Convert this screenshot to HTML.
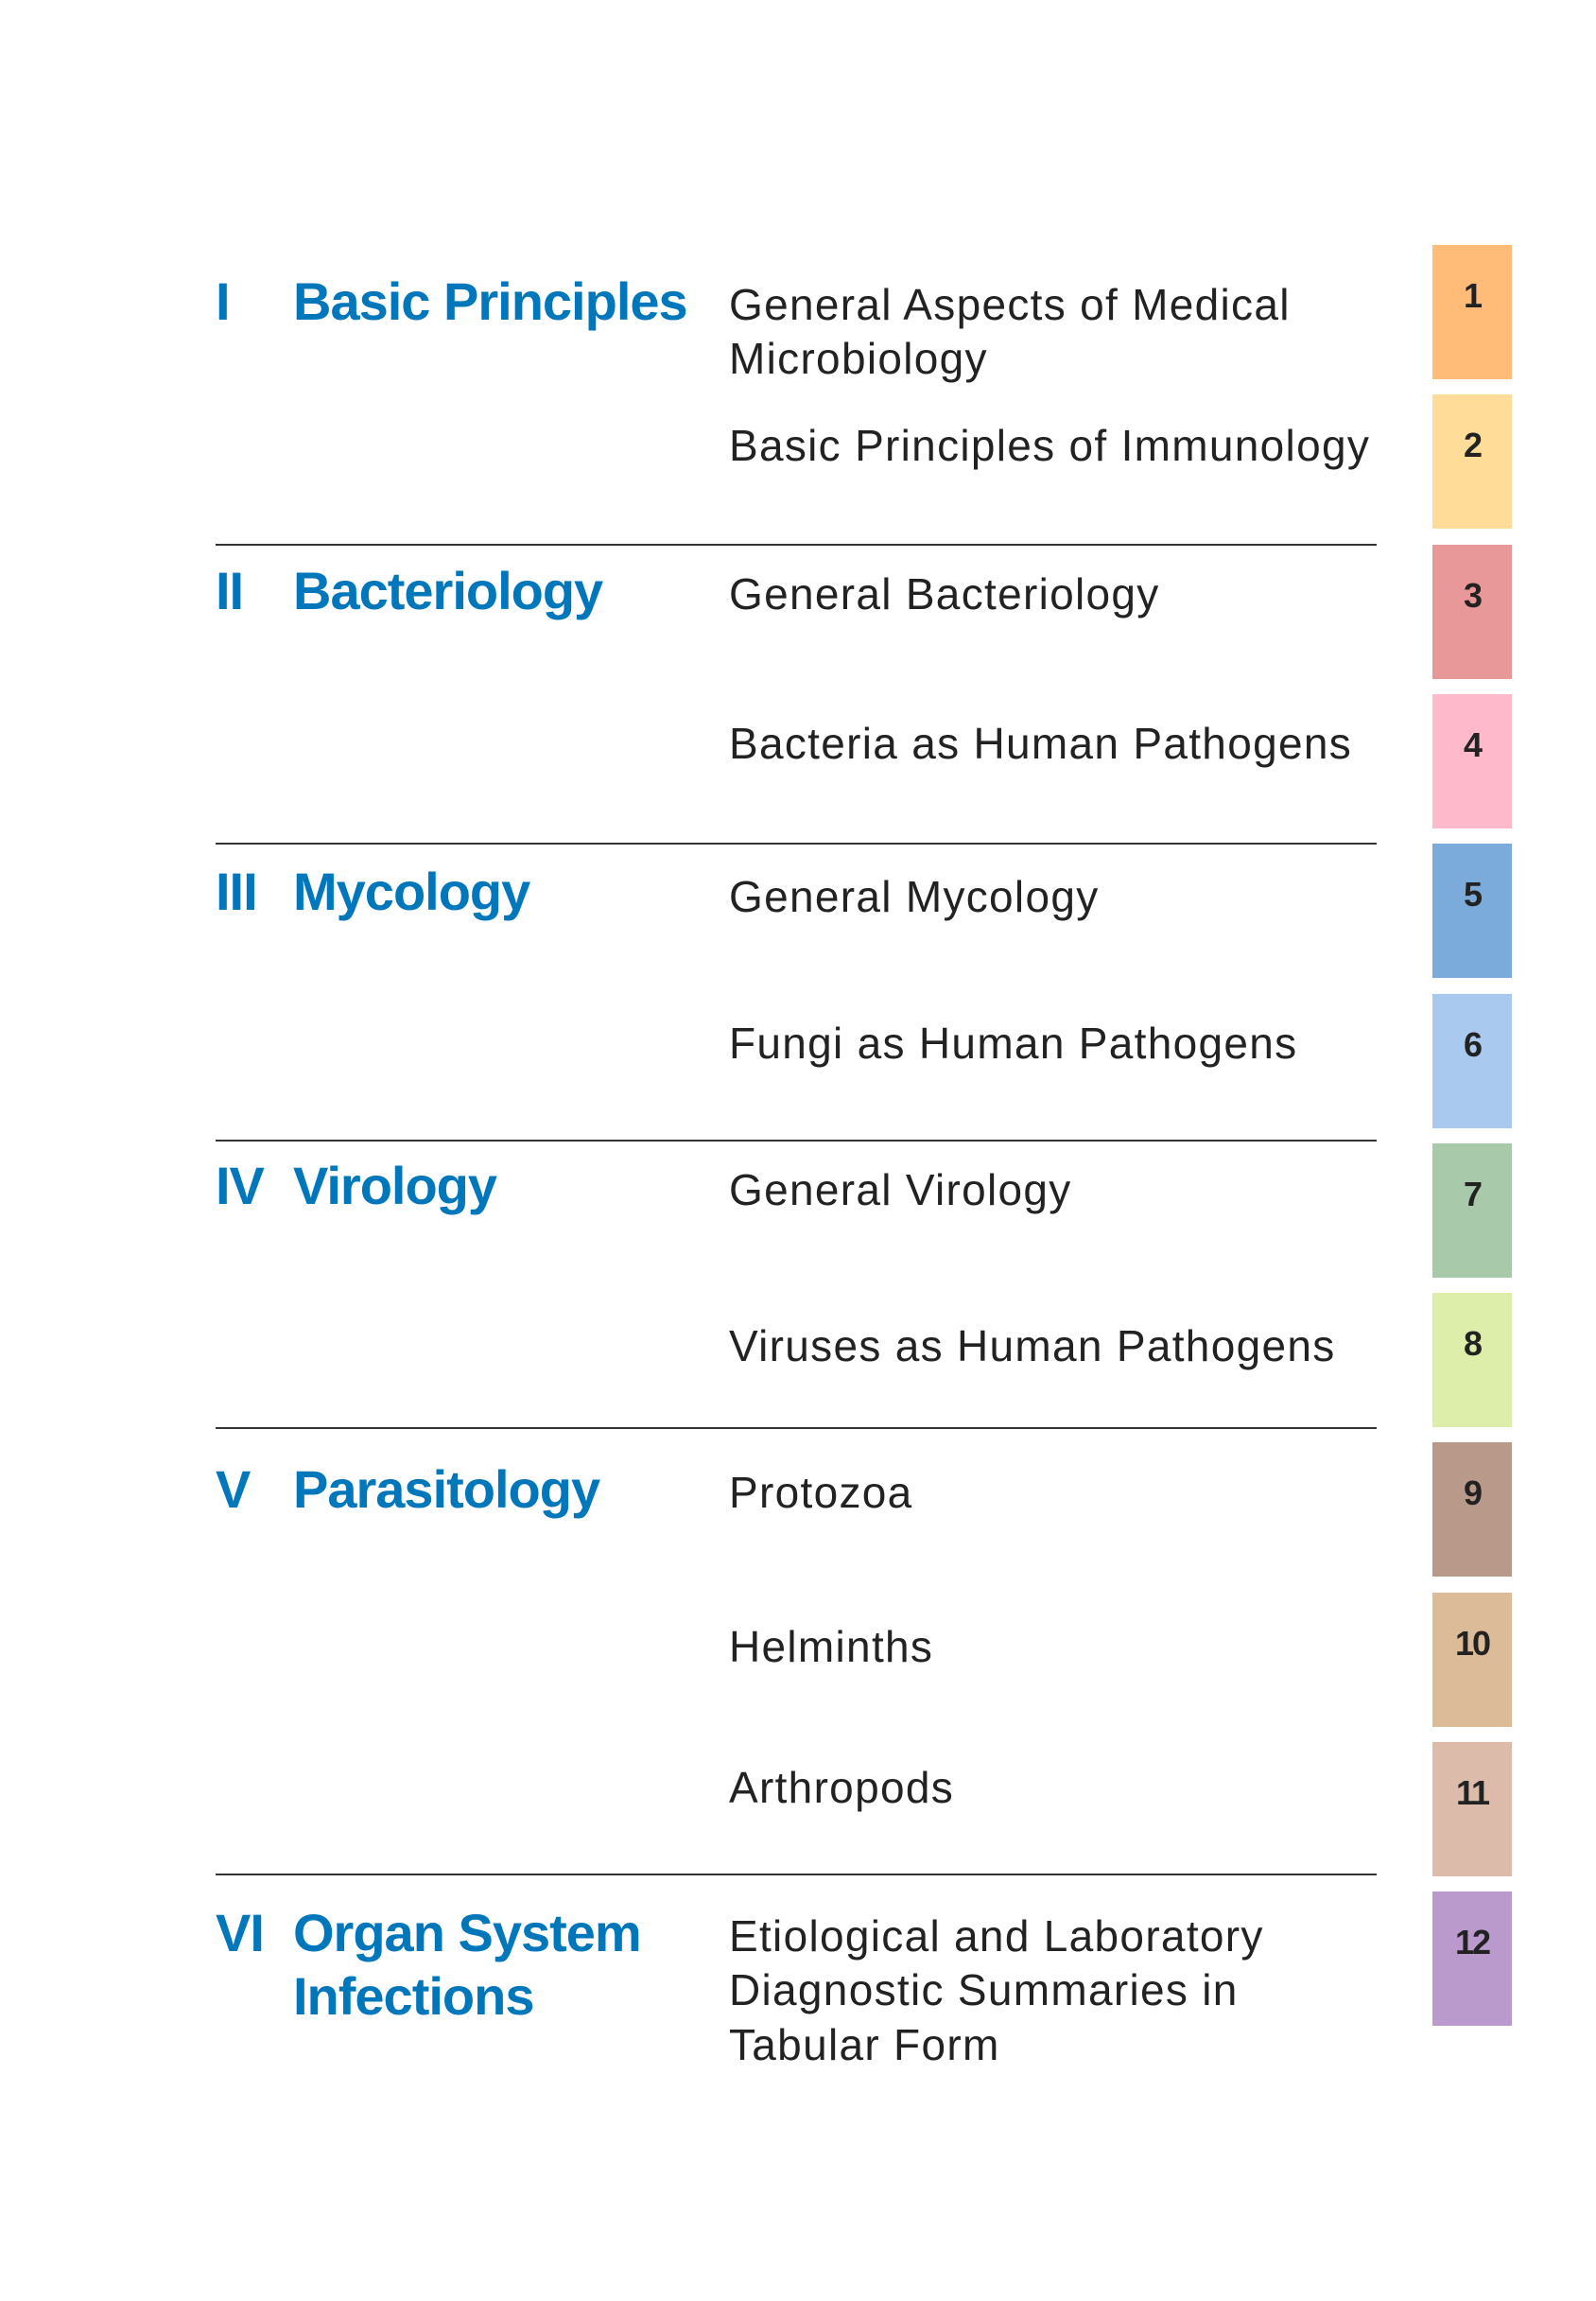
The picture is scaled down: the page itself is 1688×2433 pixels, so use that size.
<!DOCTYPE html>
<html><head><meta charset="utf-8"><style>
body{margin:0;width:1688px;height:2433px;background:#fff;position:relative;overflow:hidden;font-family:"Liberation Sans",sans-serif}
div{position:absolute;line-height:1;white-space:nowrap}
.r{left:228px;font-size:56px;font-weight:bold;color:#0077bb;letter-spacing:-1px}
.h{left:310px;font-size:56px;font-weight:bold;color:#0077bb;letter-spacing:-1px}
.s{left:771px;font-size:46px;color:#222;letter-spacing:1.3px}
.ln{left:228px;width:1228px;height:2px;background:#333}
.t{left:1515px;width:84px;height:142px}
.n{width:84px;text-align:center;font-size:36px;font-weight:bold;color:#222;top:36px;left:0;letter-spacing:-2px}
</style></head><body>
<div class="r" style="top:291px">I</div><div class="h" style="top:291px">Basic Principles</div>
<div class="s" style="top:299px">General Aspects of Medical</div>
<div class="s" style="top:356px">Microbiology</div>
<div class="s" style="top:448px">Basic Principles of Immunology</div>
<div class="ln" style="top:575px"></div>
<div class="r" style="top:597px">II</div><div class="h" style="top:597px">Bacteriology</div>
<div class="s" style="top:605px">General Bacteriology</div>
<div class="s" style="top:763px">Bacteria as Human Pathogens</div>
<div class="ln" style="top:891px"></div>
<div class="r" style="top:915px">III</div><div class="h" style="top:915px">Mycology</div>
<div class="s" style="top:925px">General Mycology</div>
<div class="s" style="top:1080px">Fungi as Human Pathogens</div>
<div class="ln" style="top:1205px"></div>
<div class="r" style="top:1226px">IV</div><div class="h" style="top:1226px">Virology</div>
<div class="s" style="top:1235px">General Virology</div>
<div class="s" style="top:1400px">Viruses as Human Pathogens</div>
<div class="ln" style="top:1509px"></div>
<div class="r" style="top:1547px">V</div><div class="h" style="top:1547px">Parasitology</div>
<div class="s" style="top:1555px">Protozoa</div>
<div class="s" style="top:1718px">Helminths</div>
<div class="s" style="top:1867px">Arthropods</div>
<div class="ln" style="top:1981px"></div>
<div class="r" style="top:2016px">VI</div><div class="h" style="top:2016px">Organ System</div>
<div class="h" style="top:2083px">Infections</div>
<div class="s" style="top:2024px">Etiological and Laboratory</div>
<div class="s" style="top:2081px">Diagnostic Summaries in</div>
<div class="s" style="top:2139px">Tabular Form</div>

<div class="t" style="top:259px;background:#ffbb77"><div class="n">1</div></div>
<div class="t" style="top:417px;background:#ffdc98"><div class="n">2</div></div>
<div class="t" style="top:576px;background:#e99899"><div class="n">3</div></div>
<div class="t" style="top:734px;background:#febacb"><div class="n">4</div></div>
<div class="t" style="top:892px;background:#7babdb"><div class="n">5</div></div>
<div class="t" style="top:1051px;background:#a9caee"><div class="n">6</div></div>
<div class="t" style="top:1209px;background:#a9c9ab"><div class="n">7</div></div>
<div class="t" style="top:1367px;background:#ddedaa"><div class="n">8</div></div>
<div class="t" style="top:1525px;background:#b99a8a"><div class="n">9</div></div>
<div class="t" style="top:1684px;background:#dcbb99"><div class="n">10</div></div>
<div class="t" style="top:1842px;background:#dcbbaa"><div class="n">11</div></div>
<div class="t" style="top:2000px;background:#ba99cc"><div class="n">12</div></div>
</body></html>
